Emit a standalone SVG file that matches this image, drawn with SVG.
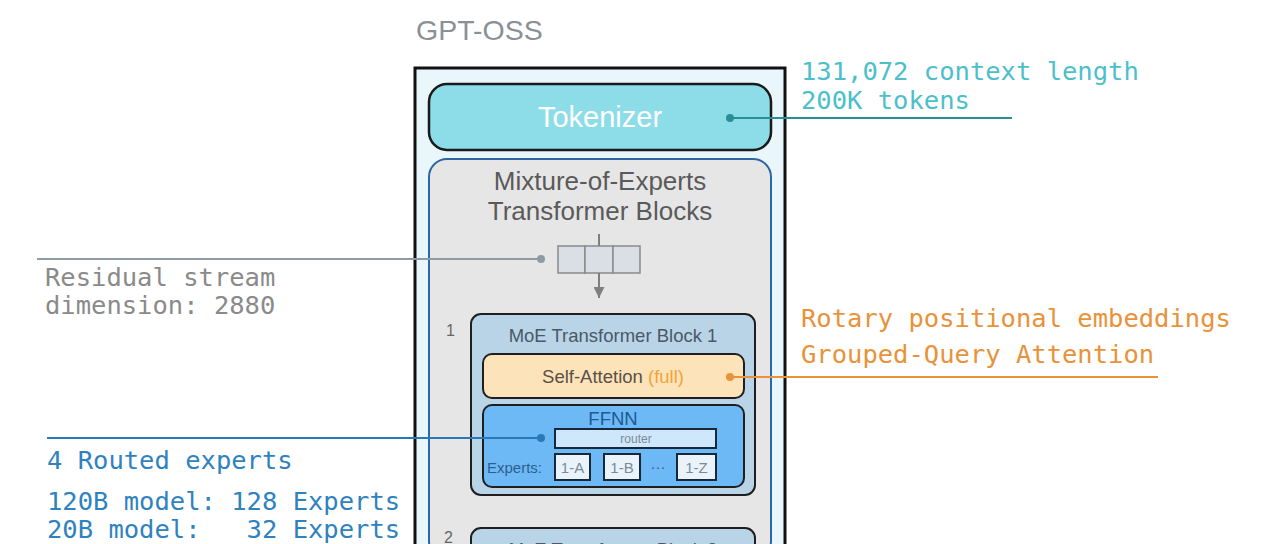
<svg xmlns="http://www.w3.org/2000/svg" width="1280" height="544" viewBox="0 0 1280 544">
<defs>
<style>
.sans{font-family:"Liberation Sans","Helvetica Neue",Arial,sans-serif}
.mono{font-family:"DejaVu Sans Mono","Liberation Mono",monospace;font-size:25.5px}
.blk{fill:#b9d4e6;stroke:#1f1f1f;stroke-width:2}
.cell{fill:#eaf3fa;stroke:#17283a;stroke-width:2}
</style>
<marker id="arr" viewBox="0 0 10 10" refX="10" refY="5" markerWidth="11" markerHeight="11" markerUnits="userSpaceOnUse" orient="auto"><path d="M0,0 L10,5 L0,10 z" fill="#7f7f7f"/></marker>
</defs>
<rect width="1280" height="544" fill="#ffffff"/>
<text class="sans" x="416" y="40" font-size="28.5" fill="#8a9096">GPT-OSS</text>

<g id="outer">
<rect x="415" y="68" width="370" height="490" fill="#e9f6fb" stroke="#111" stroke-width="3"/>
</g>
<g id="tokenizer">
<rect x="429" y="84" width="342" height="66" rx="18" fill="#8ddde9" stroke="#1a1a1a" stroke-width="2.5"/>
<text class="sans" x="600" y="127" font-size="29" fill="#ffffff" text-anchor="middle">Tokenizer</text>
</g>
<g id="moe">
<rect x="429" y="159" width="342" height="400" rx="18" fill="#e6e6e6" stroke="#2c66a3" stroke-width="2"/>
<text class="sans" x="600" y="190" font-size="26" fill="#5a5a5a" text-anchor="middle">Mixture-of-Experts</text>
<text class="sans" x="600" y="220" font-size="26" fill="#5a5a5a" text-anchor="middle">Transformer Blocks</text>
</g>
<g id="residual">
<line x1="599" y1="234" x2="599" y2="246" stroke="#7f7f7f" stroke-width="2"/>
<rect x="558" y="246" width="27" height="27" fill="#d9dfe4" stroke="#8a8a8a" stroke-width="1.5"/>
<rect x="585" y="246" width="28" height="27" fill="#d9dfe4" stroke="#8a8a8a" stroke-width="1.5"/>
<rect x="613" y="246" width="27" height="27" fill="#d9dfe4" stroke="#8a8a8a" stroke-width="1.5"/>
<line x1="599" y1="273" x2="599" y2="298" stroke="#7f7f7f" stroke-width="2" marker-end="url(#arr)"/>
</g>
<g id="block1">
<text class="sans" x="446" y="336" font-size="16" fill="#666">1</text>
<rect class="blk" x="471" y="314" width="284" height="181" rx="10"/>
<text class="sans" x="613" y="342" font-size="18.5" fill="#4a5868" text-anchor="middle">MoE Transformer Block 1</text>
</g>
<g id="selfattn">
<rect x="483" y="354" width="261" height="44" rx="9" fill="#fde3ba" stroke="#1f1f1f" stroke-width="2"/>
<text class="sans" x="613" y="383" font-size="18.5" fill="#5a5046" text-anchor="middle">Self-Attetion <tspan fill="#f2a33a">(full)</tspan></text>
</g>
<g id="ffnn">
<rect x="483" y="405" width="261" height="82" rx="9" fill="#6db9f5" stroke="#1f1f1f" stroke-width="2"/>
<text class="sans" x="613" y="425" font-size="18.5" fill="#1e5a92" text-anchor="middle">FFNN</text>
<rect x="555" y="429" width="161" height="19" fill="#cfe7fa" stroke="#17283a" stroke-width="2"/>
<text class="sans" x="636" y="443" font-size="12" fill="#7a8a99" text-anchor="middle">router</text>
<text class="sans" x="487" y="473" font-size="15" fill="#2d5f8d">Experts:</text>
<rect class="cell" x="555" y="454" width="35" height="26"/>
<text class="sans" x="572.5" y="473" font-size="15" fill="#7a8a99" text-anchor="middle">1-A</text>
<rect class="cell" x="604" y="454" width="36" height="26"/>
<text class="sans" x="622" y="473" font-size="15" fill="#7a8a99" text-anchor="middle">1-B</text>
<text class="sans" x="658" y="472" font-size="15" fill="#2d5f8d" text-anchor="middle">···</text>
<rect class="cell" x="677" y="454" width="39" height="26"/>
<text class="sans" x="696.5" y="473" font-size="15" fill="#7a8a99" text-anchor="middle">1-Z</text>
</g>
<g id="block2">
<text class="sans" x="444" y="543" font-size="16" fill="#666">2</text>
<rect class="blk" x="471" y="528" width="284" height="60" rx="10"/>
<text class="sans" x="613" y="556" font-size="18.5" fill="#4a5868" text-anchor="middle">MoE Transformer Block 2</text>
</g>

<g id="connectors">
<line x1="730" y1="118" x2="1012" y2="118" stroke="#2a8e99" stroke-width="2"/>
<circle cx="730" cy="118" r="4" fill="#2a8e99"/>
<line x1="37" y1="259" x2="541" y2="259" stroke="#8d9ba4" stroke-width="2"/>
<circle cx="541" cy="259" r="4" fill="#8d9ba4"/>
<line x1="730" y1="377" x2="1158" y2="377" stroke="#e8923a" stroke-width="2"/>
<circle cx="730" cy="377" r="4" fill="#e8923a"/>
<line x1="47" y1="438" x2="541" y2="438" stroke="#2b78b6" stroke-width="2"/>
<circle cx="541" cy="438" r="4" fill="#2b78b6"/>
</g>

<g id="labels">
<text class="mono" x="801" y="80" fill="#4cbfca">131,072 context length</text>
<text class="mono" x="801" y="109" fill="#4cbfca">200K tokens</text>
<text class="mono" x="45" y="286" fill="#8a8a8a">Residual stream</text>
<text class="mono" x="45" y="314" fill="#8a8a8a">dimension: 2880</text>
<text class="mono" x="801" y="327" fill="#e8923a">Rotary positional embeddings</text>
<text class="mono" x="801" y="363" fill="#e8923a">Grouped-Query Attention</text>
<text class="mono" x="47" y="469" fill="#2f82c0">4 Routed experts</text>
<text class="mono" x="47" y="510" fill="#2f82c0">120B model: 128 Experts</text>
<text class="mono" x="47" y="538" fill="#2f82c0" xml:space="preserve">20B model:   32 Experts</text>
</g>
</svg>
